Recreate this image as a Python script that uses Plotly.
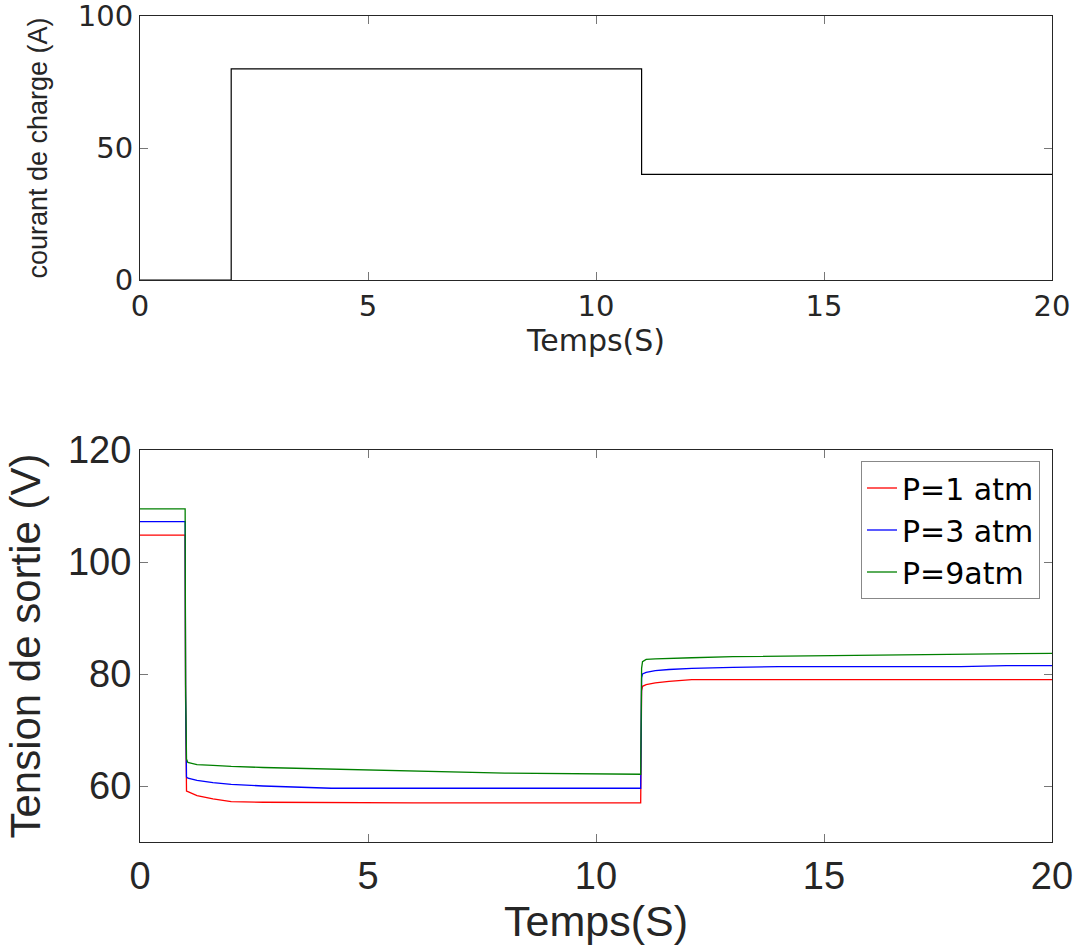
import plotly.graph_objects as go

# ---- data ----
t_load = [0, 2, 2, 11, 11, 20]
i_load = [0, 0, 80, 80, 40, 40]

t_v = [0, 0.99, 1.0, 1.02, 1.05, 1.25, 1.6, 2.0, 2.7, 4.2, 6.0, 8.0, 10.98, 11.0, 11.02, 11.1, 11.3, 11.6, 12.1, 13.0, 14.0, 16.0, 18.0, 19.0, 20.0]
v_p1 = [104.8, 104.8, 75.0, 59.1, 59.0, 58.3, 57.7, 57.2, 57.1, 57.0, 57.0, 57.0, 57.0, 77.0, 77.8, 78.1, 78.4, 78.7, 79.0, 79.0, 79.0, 79.0, 79.0, 79.0, 79.0]
v_p3 = [107.2, 107.2, 76.0, 61.6, 61.4, 61.0, 60.6, 60.3, 60.0, 59.6, 59.6, 59.6, 59.6, 79.3, 80.0, 80.3, 80.6, 80.8, 81.0, 81.2, 81.3, 81.3, 81.3, 81.5, 81.5]
v_p9 = [109.5, 109.5, 78.0, 64.8, 64.2, 63.8, 63.7, 63.5, 63.3, 63.0, 62.6, 62.3, 62.1, 81.0, 82.2, 82.6, 82.7, 82.8, 82.9, 83.1, 83.2, 83.4, 83.6, 83.7, 83.7]

series = [("P=1 atm", v_p1, "#ff0000"), ("P=3 atm", v_p3, "#0000ff"), ("P=9atm", v_p9, "#008000")]

x_ticks = [0, 5, 10, 15, 20]

fig = go.Figure()
fig.add_trace(go.Scatter(x=t_load, y=i_load, mode="lines", line=dict(color="black", width=1.2),
                         showlegend=False, xaxis="x", yaxis="y"))
for name, vals, col in series:
    fig.add_trace(go.Scatter(x=t_v, y=vals, mode="lines", name=name, line=dict(color=col, width=1.3),
                             xaxis="x2", yaxis="y2"))

W, H = 1077, 948
xd = [140 / W, 1052 / W]
top_d = [1 - 280 / H, 1 - 16 / H]
bot_d = [1 - 842 / H, 1 - 450 / H]

axcommon = dict(showline=True, linecolor="#262626", linewidth=1, mirror="ticks", ticks="inside",
                ticklen=8, tickcolor="#777777", showgrid=False, zeroline=False, automargin=False,
                ticklabeloverflow="allow")

wide = "DejaVu Sans, Arial, sans-serif"
reg = "Liberation Sans, Arial, sans-serif"

fig.update_layout(
    width=W, height=H, margin=dict(l=0, r=0, t=0, b=0, autoexpand=False),
    paper_bgcolor="white", plot_bgcolor="white",
    xaxis=dict(domain=xd, anchor="y", range=[0, 20], tickvals=x_ticks,
               tickfont=dict(family=wide, size=29, color="#262626"),
               title=dict(text="Temps(S)", font=dict(family=wide, size=30, color="#262626"), standoff=0),
               ticklabelstandoff=0,
               **axcommon),
    yaxis=dict(domain=top_d, anchor="x", range=[0, 100], tickvals=[0, 50, 100],
               tickfont=dict(family=wide, size=29, color="#262626"),
               title=dict(text="courant de charge (A)", font=dict(family=reg, size=27, color="#262626"), standoff=22),
               **axcommon),
    xaxis2=dict(domain=xd, anchor="y2", range=[0, 20], tickvals=x_ticks,
                tickfont=dict(family=reg, size=38, color="#262626"),
                title=dict(text="Temps(S)", font=dict(family=reg, size=43, color="#262626"), standoff=4),
                ticklabelstandoff=0,
                **axcommon),
    yaxis2=dict(domain=bot_d, anchor="x2", range=[50, 120], tickvals=[60, 80, 100, 120],
                tickfont=dict(family=reg, size=38, color="#262626"),
                title=dict(text="Tension de sortie (V)", font=dict(family=reg, size=42, color="#262626"), standoff=14),
                **axcommon),
    legend=dict(x=1040 / W, y=1 - 461 / H, xanchor="right", yanchor="top",
                bordercolor="#888888", borderwidth=1, bgcolor="white",
                font=dict(family=wide, size=30, color="black"), itemwidth=30, tracegroupgap=0),
)

fig.write_html("out.html")
